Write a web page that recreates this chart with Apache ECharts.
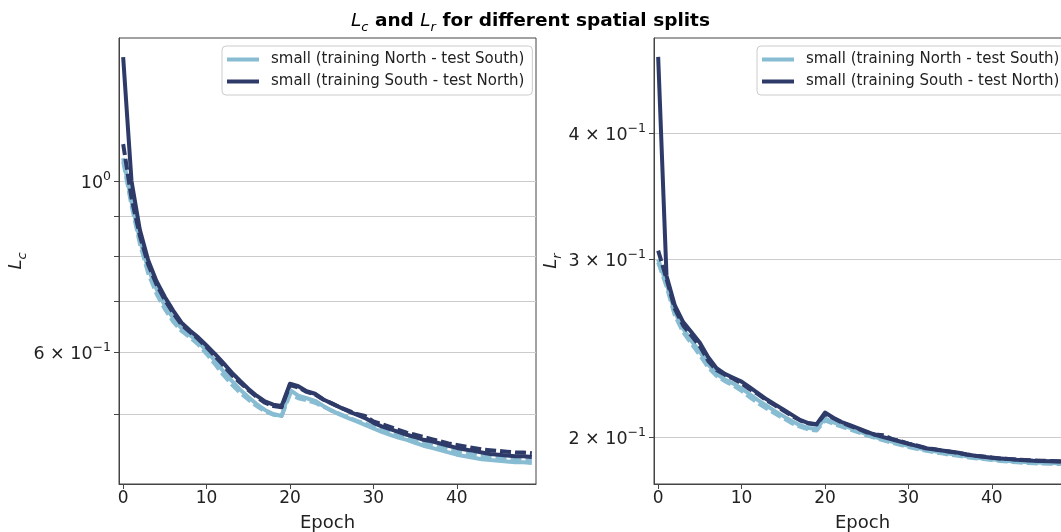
<!DOCTYPE html>
<html>
<head>
<meta charset="utf-8">
<script src="https://cdn.jsdelivr.net/npm/echarts@6/dist/echarts.min.js"></script>
<style>html,body{margin:0;padding:0;background:#fff;}#c{width:1061px;height:532px;}</style>
</head>
<body>
<div id="c"></div>
<script>
// ---- data ----
const epochs = ['0','1','2','3','4','5','6','7','8','9','10','11','12','13','14','15','16','17','18','19','20','21','22','23','24','25','26','27','28','29','30','31','32','33','34','35','36','37','38','39','40','41','42','43','44','45','46','47','48','49'];
const nameNS = 'small (training North - test South)';
const nameSN = 'small (training South - test North)';

// L_c (left panel)
const lcNS = [1.07,0.94,0.84,0.77,0.725,0.69,0.665,0.645,0.632,0.62,0.603,0.586,0.568,0.552,0.538,0.526,0.515,0.506,0.500,0.497,0.537,0.528,0.524,0.520,0.512,0.505,0.499,0.494,0.489,0.484,0.479,0.474,0.470,0.466,0.463,0.459,0.455,0.452,0.449,0.446,0.443,0.441,0.439,0.437,0.436,0.435,0.434,0.433,0.433,0.432];
const lcNSdash = [1.06,0.93,0.83,0.76,0.715,0.683,0.658,0.64,0.628,0.615,0.598,0.58,0.562,0.546,0.533,0.522,0.512,0.504,0.499,0.497,0.530,0.524,0.521,0.517,0.511,0.505,0.500,0.495,0.490,0.486,0.481,0.477,0.473,0.469,0.466,0.462,0.459,0.456,0.453,0.450,0.447,0.445,0.443,0.441,0.440,0.439,0.438,0.437,0.436,0.436];
const lcSN = [1.445,1.00,0.865,0.79,0.742,0.708,0.68,0.656,0.641,0.628,0.613,0.598,0.582,0.566,0.552,0.539,0.528,0.519,0.514,0.512,0.547,0.543,0.535,0.531,0.522,0.516,0.510,0.504,0.499,0.494,0.487,0.482,0.478,0.474,0.470,0.467,0.463,0.461,0.458,0.455,0.452,0.450,0.448,0.446,0.444,0.443,0.442,0.441,0.441,0.440];
const lcSNdash = [1.116,0.95,0.85,0.78,0.735,0.702,0.675,0.652,0.638,0.625,0.610,0.594,0.578,0.562,0.549,0.537,0.526,0.517,0.512,0.510,0.545,0.541,0.534,0.530,0.522,0.516,0.510,0.505,0.500,0.497,0.489,0.485,0.481,0.477,0.473,0.470,0.467,0.464,0.461,0.458,0.456,0.454,0.452,0.450,0.449,0.448,0.447,0.446,0.446,0.445];

// L_r (right panel)
const lrNS = [0.300,0.284,0.266,0.256,0.249,0.243,0.236,0.231,0.228,0.226,0.2235,0.2205,0.2175,0.2148,0.2122,0.2098,0.2075,0.2055,0.2042,0.2038,0.2088,0.2068,0.2055,0.2042,0.2028,0.2012,0.2000,0.1990,0.1980,0.1970,0.1960,0.1952,0.1944,0.1937,0.1931,0.1925,0.1920,0.1914,0.1909,0.1905,0.1901,0.1897,0.1894,0.1891,0.1889,0.1887,0.1886,0.1885,0.1884,0.1884];
const lrNSdash = [0.298,0.282,0.264,0.254,0.2475,0.241,0.2345,0.2300,0.2272,0.2250,0.2222,0.219,0.216,0.2135,0.211,0.2088,0.2065,0.2048,0.2035,0.2030,0.2078,0.2062,0.2048,0.2035,0.2022,0.2008,0.1996,0.1985,0.1975,0.1965,0.1955,0.1947,0.1940,0.1933,0.1927,0.1921,0.1916,0.1910,0.1906,0.1902,0.1898,0.1894,0.1891,0.1888,0.1886,0.1884,0.1883,0.1882,0.1881,0.1880];
const lrSN = [0.476,0.289,0.270,0.260,0.254,0.248,0.240,0.234,0.231,0.229,0.227,0.224,0.221,0.218,0.2155,0.213,0.2105,0.208,0.2065,0.206,0.2115,0.209,0.207,0.2055,0.204,0.2025,0.201,0.200,0.199,0.198,0.197,0.196,0.195,0.1945,0.194,0.1935,0.193,0.1922,0.1917,0.1912,0.1908,0.1905,0.1902,0.1899,0.1897,0.1895,0.1894,0.1893,0.1892,0.1891];
const lrSNdash = [0.306,0.287,0.268,0.258,0.252,0.246,0.238,0.233,0.2305,0.2285,0.226,0.223,0.2205,0.2175,0.215,0.2125,0.210,0.2078,0.2063,0.2058,0.2108,0.2088,0.2068,0.2052,0.2038,0.2022,0.2012,0.2008,0.1992,0.1982,0.197,0.1962,0.1952,0.1946,0.194,0.1934,0.1929,0.1922,0.1917,0.1913,0.1909,0.1905,0.1903,0.190,0.1898,0.1896,0.1895,0.1894,0.1893,0.1893];

// axis ticks
const xTickLabels = ['0','10','20','30','40'];
const lcGridValues = [0.5,0.6,0.7,0.8,0.9,1];
const lcLabelValues = [0.6,1];
const lrGridValues = [0.2,0.3,0.4];
const lrLabelValues = [0.2,0.3,0.4];

// ---- styling ----
const cLight = '#87bcd2';
const cDark = '#2e3b69';
const FONT = 'DejaVu Sans';
const LW = 4;

function fmtLog(v) {
  const e = Math.floor(Math.log10(v) + 1e-9);
  const m = Math.round(v / Math.pow(10, e));
  const es = e < 0 ? '\u2212' + (-e) : String(e);
  return m === 1 ? '{m|10}{s|' + es + '}' : '{m|' + m + ' \u00d7 10}{s|' + es + '}';
}
const tickRich = {
  m: {fontSize: 17.5, fontFamily: FONT, color: '#222', lineHeight: 22, verticalAlign: 'bottom'},
  s: {fontSize: 12.5, fontFamily: FONT, color: '#222', lineHeight: 22, verticalAlign: 'top'}
};

function xAxis(gi) {
  return {
    type: 'category', gridIndex: gi, data: epochs, boundaryGap: true,
    axisLine: {show: true, lineStyle: {color: '#444', width: 1}},
    axisTick: {show: true, interval: 9, alignWithLabel: true, length: 5, lineStyle: {color: '#444'}},
    axisLabel: {interval: 9, fontSize: 17, fontFamily: FONT, color: '#222', margin: 6},
    splitLine: {show: false},
    name: 'Epoch', nameLocation: 'middle', nameGap: 30,
    nameTextStyle: {fontSize: 18, fontFamily: FONT, color: '#222'}
  };
}
function yAxis(gi, min, max, gridVals, labelVals, sub) {
  return {
    type: 'log', gridIndex: gi, min: min, max: max, logBase: 10,
    axisLine: {show: true, lineStyle: {color: '#444', width: 1}},
    axisTick: {show: true, length: 5, customValues: gridVals, lineStyle: {color: '#444'}},
    axisLabel: {customValues: labelVals, formatter: fmtLog, rich: tickRich, margin: 8},
    splitLine: {show: true, lineStyle: {color: '#cccccc', width: 1}},
    minorTick: {show: false}, minorSplitLine: {show: false},
    name: '{i|L}{b|' + sub + '}', nameLocation: 'middle', nameRotate: 90, nameGap: 86,
    nameTextStyle: {
      rich: {
        i: {fontSize: 18, fontStyle: 'italic', fontFamily: FONT, color: '#222', lineHeight: 22, verticalAlign: 'top'},
        b: {fontSize: 13, fontStyle: 'italic', fontFamily: FONT, color: '#222', lineHeight: 22, verticalAlign: 'bottom'}
      }
    }
  };
}
function line(name, data, color, dashed, gi) {
  return {
    type: 'line', name: name, data: data, xAxisIndex: gi, yAxisIndex: gi,
    showSymbol: false, symbol: 'none', smooth: false, silent: true, animation: false,
    color: color,
    itemStyle: {color: color},
    lineStyle: {color: color, width: LW, type: dashed ? [11, 4] : 'solid', cap: 'butt', join: 'round'}
  };
}
function legend(left, gi) {
  return {
    left: left, top: 46, orient: 'vertical', icon: 'rect', itemWidth: 32, itemHeight: 4,
    itemGap: 7, selectedMode: false,
    data: [nameNS, nameSN],
    padding: [6, 8, 6, 5],
    backgroundColor: 'rgba(255,255,255,0.85)', borderColor: '#cccccc', borderWidth: 1, borderRadius: 4,
    textStyle: {fontSize: 15, fontFamily: FONT, color: '#222', padding: [0, 0, 0, 7]}
  };
}

const chart = echarts.init(document.getElementById('c'), null, {renderer: 'canvas'});
chart.setOption({
  animation: false,
  backgroundColor: '#ffffff',
  title: {
    left: 'center', top: 7,
    text: '{i|L}{s|c}{b| and }{i|L}{s|r}{b| for different spatial splits}',
    textStyle: {
      fontWeight: 'normal',
      rich: {
        i: {fontSize: 18.5, fontStyle: 'italic', fontWeight: 'normal', fontFamily: FONT, color: '#000', lineHeight: 22, verticalAlign: 'top'},
        s: {fontSize: 13, fontStyle: 'italic', fontWeight: 'normal', fontFamily: FONT, color: '#000', lineHeight: 22, verticalAlign: 'bottom'},
        b: {fontSize: 18.5, fontWeight: 'bold', fontFamily: FONT, color: '#000', lineHeight: 22, verticalAlign: 'top'}
      }
    }
  },
  legend: [legend(222, 0), legend(757, 1)],
  grid: [
    {left: 119, top: 38, width: 417, height: 446, outerBoundsMode: 'none', containLabel: false, show: true, borderColor: '#444', borderWidth: 1, backgroundColor: 'transparent'},
    {left: 654, top: 38, width: 417, height: 446, outerBoundsMode: 'none', containLabel: false, show: true, borderColor: '#444', borderWidth: 1, backgroundColor: 'transparent'}
  ],
  xAxis: [xAxis(0), xAxis(1)],
  yAxis: [
    yAxis(0, 0.406, 1.53, lcGridValues, lcLabelValues, 'c'),
    yAxis(1, 0.1797, 0.497, lrGridValues, lrLabelValues, 'r')
  ],
  series: [
    line(nameNS, lcNS, cLight, false, 0),
    line(nameNS + ' ', lcNSdash, cLight, true, 0),
    line(nameSN, lcSN, cDark, false, 0),
    line(nameSN + ' ', lcSNdash, cDark, true, 0),
    line(nameNS, lrNS, cLight, false, 1),
    line(nameNS + ' ', lrNSdash, cLight, true, 1),
    line(nameSN, lrSN, cDark, false, 1),
    line(nameSN + ' ', lrSNdash, cDark, true, 1)
  ]
});
</script>
</body>
</html>
